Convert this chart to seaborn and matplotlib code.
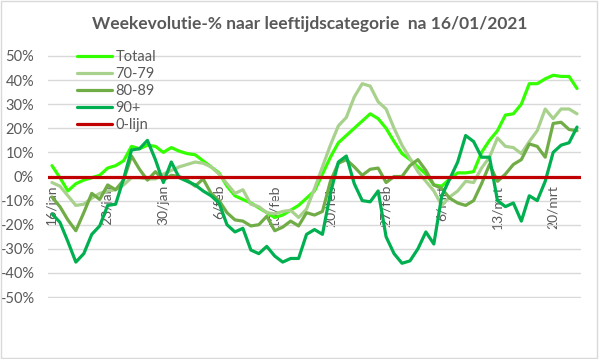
import numpy as np
import pandas as pd
import seaborn as sns
import matplotlib.pyplot as plt
from matplotlib.ticker import FuncFormatter

sns.set_style("white")
plt.rcParams['font.family'] = ['Lato', 'DejaVu Sans']

# weekly evolution (%) per day, 16/jan .. 23/mrt
totaal = [4.5, -0.5, -6, -3, -1.5, -0.5, 0.5, 3.5, 4.5, 6.5,
          12.5, 11.5, 13, 12.5, 10, 12, 10.5, 9.5, 9, 6.5,
          4, 1.5, -4, -8, -9.5, -11, -13, -15, -17, -16,
          -14, -12, -9, -6, 1, 8, 14, 17, 20, 23,
          26, 24, 20, 14.5, 9.5, 7, 4, 1, -3.5, -4,
          -1, 1.5, 1.5, 2, 10, 15, 19, 25.5, 26, 30,
          38.5, 38.5, 40.5, 42, 41.5, 41.5, 36.5]
leeftijd_70_79 = [-2.5, -4, -8, -12, -11.5, -9, -7, -6, -5.5, -3.5,
                  -0.5, -0.5, -1, -1, 1, 2.5, 4, 5, 6, 5.5,
                  4, 1, -3, -7, -5.5, -11.5, -12.5, -15, -15.5, -14.5,
                  -14, -17, -13.5, -5, 4, 13, 21, 24.5, 33, 38.5,
                  37.5, 31, 28, 20, 13, 7.5, 2, -2, -6, -12,
                  -8.5, -6, -2, -2.5, 3.5, 8, 16, 12.5, 12, 9.5,
                  14.5, 19, 28, 24, 28, 28, 26]
leeftijd_80_89 = [-8.5, -12.5, -18, -22.5, -15, -7, -9.5, -3.5, -5.5, -1.5,
                  8.5, 3, -1.5, 2, -1.5, 0.5, 0, -1.5, -4, -1,
                  -7, -10, -15, -18, -18.5, -20.5, -20, -16.5, -22.5, -21,
                  -18.5, -20.5, -15, -16, -14.5, -2, 5.5, 7, 4, 0.5,
                  3, 3.5, -2.5, 0, 0, 4.5, 7, 2.5, -3.5, -5,
                  -9, -11, -12, -10, -3, 5, -2, 1, 5, 7,
                  13.5, 12.5, 8, 22, 22.5, 19.5, 19]
leeftijd_90 = [-15.5, -19, -27, -35.5, -32, -24, -20.5, -12, -11.5, -1,
               11, 11.5, 15, 7, -2.5, 6, -0.5, -2, -3.5, -6,
               -8, -11, -20, -23, -21.5, -30.5, -32, -29, -33, -35.5,
               -34, -34, -24, -22, -24, -7, 6, 8.5, -3, -10,
               -10.5, -6, -25, -32, -36, -35, -30, -23, -28, -8,
               -1, 6, 17, 14.5, 8, 8, -10, -12.5, -11, -18.5,
               -8, -10, -2, 10, 13, 14, 20.5]

reeksen = ["Totaal", "70-79", "80-89", "90+"]
kleuren = ["#33FF00", "#A9D18E", "#70AD47", "#00B050"]
tick_labels = ["16/jan", "23/jan", "30/jan", "6/feb", "13/feb",
               "20/feb", "27/feb", "6/mrt", "13/mrt", "20/mrt"]

n = len(totaal)
dagen = np.arange(n)
df = pd.DataFrame({
    "dag": np.tile(dagen, 4),
    "waarde": totaal + leeftijd_70_79 + leeftijd_80_89 + leeftijd_90,
    "reeks": np.repeat(reeksen, n),
})

fig = plt.figure(figsize=(5.99, 3.59), dpi=100)
ax = fig.add_axes([48/599, 61/359, 533/599, 243/359])

sns.lineplot(data=df, x="dag", y="waarde", hue="reeks", hue_order=reeksen,
             palette=kleuren, linewidth=2.3, errorbar=None, legend=False, ax=ax)
ax.axhline(0, color="#C00000", linewidth=2.3)

ax.set_xlim(-0.5, n - 0.5)
ax.set_ylim(-50.4, 50.4)
ax.set_yticks(range(-50, 51, 10))
ax.yaxis.set_major_formatter(FuncFormatter(lambda v, p: f"{v:.0f}%"))
ax.set_xticks(range(0, n, 7))
ax.set_xticklabels(tick_labels)
ax.set_xticks(np.arange(6.5, n, 7), minor=True)
ax.set_xlabel("")
ax.set_ylabel("")

for s in ["left", "right", "top"]:
    ax.spines[s].set_visible(False)
ax.spines["bottom"].set_position(("data", 0))
ax.spines["bottom"].set_visible(False)

ax.yaxis.grid(True, color="#D9D9D9", linewidth=1)
ax.set_axisbelow(True)
ax.tick_params(axis="y", length=0, pad=10, labelsize=10.5, labelcolor="#595959")
ax.tick_params(axis="x", which="major", length=0, pad=6, labelsize=10,
               labelcolor="#595959", labelrotation=90)
ax.tick_params(axis="x", which="minor", length=4, color="#BFBFBF", direction="out")

ax.legend(ax.lines, reeksen + ["0-lijn"], loc="upper left",
          bbox_to_anchor=(77/599, 1 - 50/359), bbox_transform=fig.transFigure,
          frameon=False, handlelength=2.4, handletextpad=0.25, labelspacing=0.2,
          fontsize=10.5, labelcolor="#595959", borderaxespad=0, borderpad=0)

fig.text(310/599, 1 - 24/359, "Weekevolutie-% naar leeftijdscategorie  na 16/01/2021",
         ha="center", va="center", fontsize=12.5, weight="bold", color="#595959")
fig.add_artist(plt.Rectangle((0.002, 0.002), 0.995, 0.995, transform=fig.transFigure,
                             fill=False, edgecolor="#D9D9D9", linewidth=1))

fig.savefig("out.png", dpi=100)
